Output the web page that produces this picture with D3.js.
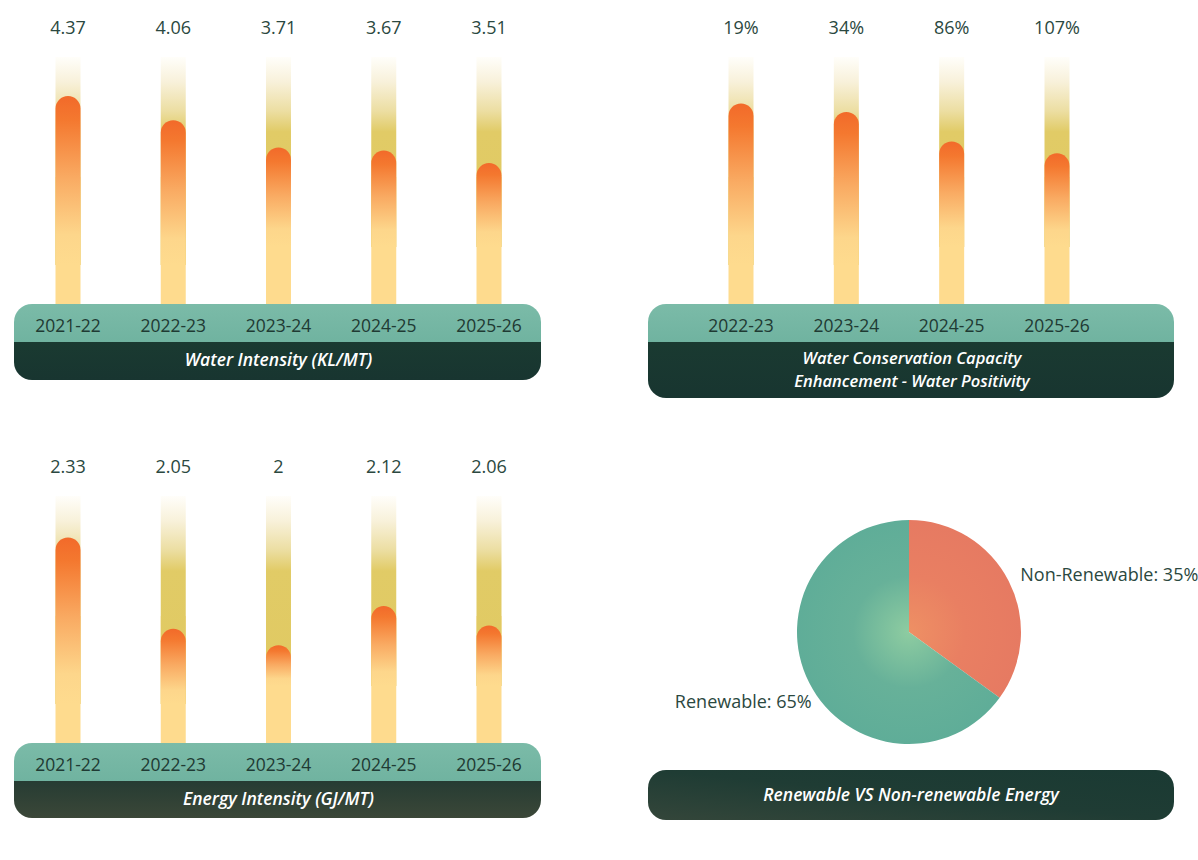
<!DOCTYPE html>
<html>
<head>
<meta charset="utf-8">
<script src="https://cdn.jsdelivr.net/npm/d3@7"></script>
<style>
  body { margin: 0; background: #fff; font-family: "Open Sans", sans-serif; }
</style>
</head>
<body>
<script>
// data
const intensityYears = ["2021-22", "2022-23", "2023-24", "2024-25", "2025-26"];
const waterIntensity = [4.37, 4.06, 3.71, 3.67, 3.51];
const conservationYears = ["2022-23", "2023-24", "2024-25", "2025-26"];
const waterPositivity = [19, 34, 86, 107];
const energyIntensity = [2.33, 2.05, 2, 2.12, 2.06];
const energyMix = ["Non-Renewable", "Renewable"];
const energyShare = [35, 65];

const width = 1198, height = 860;
const barW = 25, barTop = 57, chipTop = 304;

const svg = d3.select("body").append("svg")
  .attr("width", width)
  .attr("height", height);

const defs = svg.append("defs");

function linGrad(id, stops, attrs) {
  const g = defs.append("linearGradient").attr("id", id);
  Object.entries(attrs).forEach(([k, v]) => g.attr(k, v));
  stops.forEach(([o, c]) => g.append("stop").attr("offset", o).attr("stop-color", c));
}

linGrad("orange", [[0, "#f26a2a"], [0.14, "#f4782f"], [0.48, "#f9aa62"], [0.82, "#fdd68b"], [1, "#fedb8e"]],
  {x1: 0, y1: 0, x2: 0, y2: 1});
linGrad("glow", [[0, "#fffefa"], [0.12, "#f8f1da"], [0.26, "#ecdea2"], [0.36, "#e1cb66"], [1, "#e0c961"]],
  {gradientUnits: "userSpaceOnUse", x1: 0, y1: barTop, x2: 0, y2: barTop + 208});
linGrad("tealFade", [[0, "#7bbba8"], [1, "#70b3a0"]], {x1: 0, y1: 0, x2: 0, y2: 1});
linGrad("darkFlat", [[0, "#1a3a31"], [1, "#183530"]], {x1: 0, y1: 0, x2: 0, y2: 1});
linGrad("darkEnergy", [[0, "#263c33"], [1, "#3b4738"]], {x1: 0, y1: 0, x2: 0, y2: 1});
linGrad("darkMix", [[0, "#34463a"], [0.5, "#1f3c34"], [1, "#1a3a33"]], {x1: 0, y1: 1, x2: 1, y2: 0});

// one bar panel: tracks, orange fills, value labels, year chip and title
function barPanel(opts) {
  const g = svg.append("g").attr("transform", `translate(${opts.x0},${opts.dy})`);

  const x = d3.scalePoint().domain(opts.years).range(opts.xRange);
  const y = d3.scaleLinear().domain(opts.domain).range(opts.range);
  const rows = opts.years.map((yr, i) => ({year: yr, value: opts.values[i], i}));

  const col = g.selectAll("g.col").data(rows).join("g")
    .attr("class", "col")
    .attr("transform", d => `translate(${x(d.year) - barW / 2},0)`);

  const glowEnd = d => barTop + (d.i < 2 ? 208 : 190);

  col.append("rect")
    .attr("y", barTop + 120).attr("width", barW)
    .attr("height", chipTop - barTop - 120)
    .attr("fill", "#fedb8e");

  col.append("rect")
    .attr("y", barTop).attr("width", barW)
    .attr("height", d => glowEnd(d) - barTop)
    .attr("fill", "url(#glow)");

  const r = barW / 2;
  col.append("path")
    .attr("fill", "url(#orange)")
    .attr("d", d => {
      const t = y(d.value), b = glowEnd(d);
      return `M0,${b}V${t + r}A${r},${r} 0 0 1 ${barW},${t + r}V${b}Z`;
    });

  g.selectAll("text.val").data(rows).join("text")
    .attr("class", "val")
    .attr("x", d => x(d.year)).attr("y", 34)
    .attr("text-anchor", "middle")
    .attr("font-size", 18).attr("fill", "#2b4840")
    .text(d => opts.fmt(d.value));

  // chip
  const cw = opts.chipW, tealH = 38;
  const clipId = "clip" + opts.id;
  defs.append("clipPath").attr("id", clipId)
    .append("rect").attr("x", 0).attr("y", chipTop)
    .attr("width", cw).attr("height", tealH + opts.darkH).attr("rx", 18);
  const chip = g.append("g").attr("clip-path", `url(#${clipId})`);
  chip.append("rect").attr("y", chipTop).attr("width", cw).attr("height", tealH).attr("fill", "url(#tealFade)");
  chip.append("rect").attr("y", chipTop + tealH).attr("width", cw).attr("height", opts.darkH).attr("fill", opts.dark);

  g.selectAll("text.yr").data(rows).join("text")
    .attr("class", "yr")
    .attr("x", d => x(d.year)).attr("y", chipTop + 28)
    .attr("text-anchor", "middle")
    .attr("font-size", 17.5).attr("fill", "#1f3a33")
    .text(d => d.year);

  const lines = opts.title;
  const two = lines.length > 1;
  g.selectAll("text.ttl").data(lines).join("text")
    .attr("class", "ttl")
    .attr("x", cw / 2 + 1)
    .attr("y", (d, i) => chipTop + tealH + (two ? 21.5 + i * 23 : 24))
    .attr("text-anchor", "middle")
    .attr("font-size", two ? 16.5 : 17.5).attr("font-style", "italic").attr("font-weight", 600)
    .attr("fill", "#ffffff")
    .text(d => d);
}

barPanel({
  id: "wi", x0: 14, dy: 0, chipW: 527, darkH: 38, dark: "url(#darkFlat)",
  years: intensityYears, values: waterIntensity, xRange: [54, 475],
  domain: [1.7, 5], range: [chipTop, 47], fmt: d => d,
  title: ["Water Intensity (KL/MT)"]
});

barPanel({
  id: "wp", x0: 648, dy: 0, chipW: 526, darkH: 56, dark: "url(#darkFlat)",
  years: conservationYears, values: waterPositivity, xRange: [93, 409],
  domain: [0, 150], range: [92.6, 177.7], fmt: d => d + "%",
  title: ["Water Conservation Capacity", "Enhancement - Water Positivity"]
});

barPanel({
  id: "ei", x0: 14, dy: 439, chipW: 527, darkH: 37, dark: "url(#darkEnergy)",
  years: intensityYears, values: energyIntensity, xRange: [54, 475],
  domain: [1.7, 2.5], range: [chipTop, 43], fmt: d => d,
  title: ["Energy Intensity (GJ/MT)"]
});

// pie
const R = 112;
const pieG = svg.append("g").attr("transform", "translate(909,632)");

const radial = [
  ["radNon", "#ee9064", "#e97f62", "#e67a62"],
  ["radRen", "#8ecca1", "#67b199", "#5fad98"]
];
radial.forEach(([id, c0, c1, c2]) => {
  const rg = defs.append("radialGradient").attr("id", id)
    .attr("gradientUnits", "userSpaceOnUse")
    .attr("cx", 0).attr("cy", 0).attr("r", R);
  rg.append("stop").attr("offset", 0).attr("stop-color", c0);
  rg.append("stop").attr("offset", 0.5).attr("stop-color", c1);
  rg.append("stop").attr("offset", 1).attr("stop-color", c2);
});

const slices = d3.pie().sort(null)(energyShare);
const arc = d3.arc().innerRadius(0).outerRadius(R);
const labelArc = d3.arc().innerRadius(126).outerRadius(126);

pieG.selectAll("path").data(slices).join("path")
  .attr("d", arc)
  .attr("fill", (d, i) => i === 0 ? "url(#radNon)" : "url(#radRen)");

pieG.selectAll("text").data(slices).join("text")
  .attr("transform", d => {
    const [cx, cy] = labelArc.centroid(d);
    const right = cx > 0;
    return `translate(${right ? cx - 1 : cx + 15},${right ? cy + 6 : cy + 19})`;
  })
  .attr("text-anchor", d => labelArc.centroid(d)[0] > 0 ? "start" : "end")
  .attr("font-size", 18).attr("fill", "#2b4840")
  .text((d, i) => `${energyMix[i]}: ${energyShare[i]}%`);

// pie title chip
const mixChip = svg.append("g").attr("transform", "translate(648,770)");
mixChip.append("rect")
  .attr("width", 526).attr("height", 50).attr("rx", 18)
  .attr("fill", "url(#darkMix)");
mixChip.append("text")
  .attr("x", 263).attr("y", 31)
  .attr("text-anchor", "middle")
  .attr("font-size", 17.5).attr("font-style", "italic").attr("font-weight", 600)
  .attr("fill", "#ffffff")
  .text("Renewable VS Non-renewable Energy");
</script>
</body>
</html>
